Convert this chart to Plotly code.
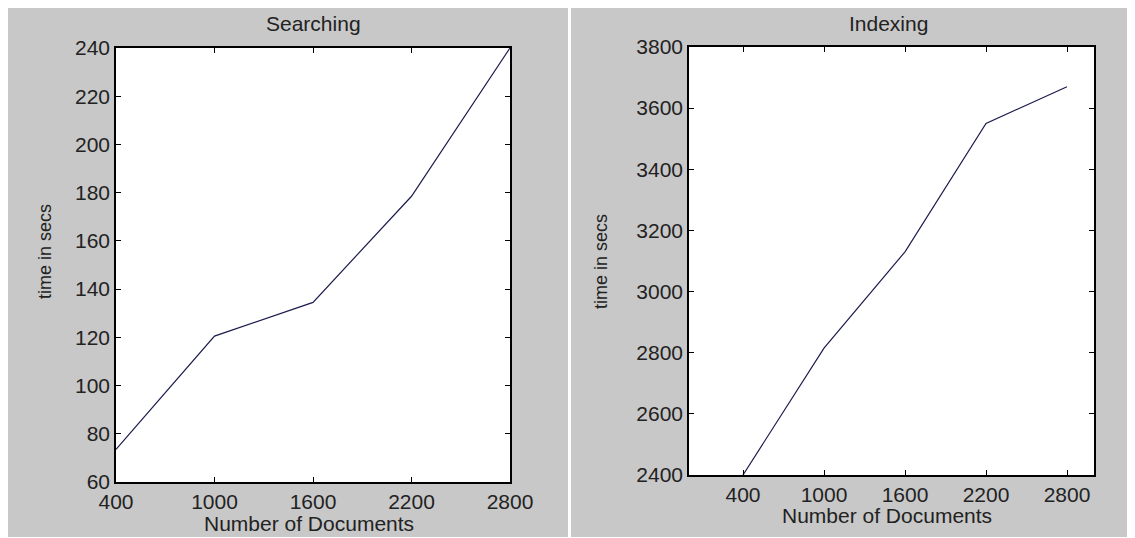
import plotly.graph_objects as go

# ---- data ----
docs = [400, 1000, 1600, 2200, 2800]
search_time = [73.5, 120.5, 134.5, 178.5, 240]
index_time = [2400, 2815, 3130, 3550, 3670]
x_ticks = [400, 1000, 1600, 2200, 2800]
search_y_ticks = list(range(60, 241, 20))
index_y_ticks = list(range(2400, 3801, 200))

# page body has an 8px margin; figure occupies the rest of the window
OFF = 8
W, H = 1135 - OFF, 538 - OFF
def px(x):
    return max(0.0, min(1.0, (x - OFF) / W))
def py(y):
    return max(0.0, min(1.0, 1 - (y - OFF) / H))

FONT = "Liberation Sans, Arial, sans-serif"
TXT = "#222222"
LINE = "#1c1c4c"
GRAY = "#c8c8c8"

fig = go.Figure()
fig.add_trace(go.Scatter(x=docs, y=search_time, mode="lines",
                         line=dict(color=LINE, width=1.2), xaxis="x", yaxis="y",
                         showlegend=False))
fig.add_trace(go.Scatter(x=docs, y=index_time, mode="lines",
                         line=dict(color=LINE, width=1.2), xaxis="x2", yaxis="y2",
                         showlegend=False))

axis_common = dict(showline=True, linecolor="black", linewidth=1.5, mirror="ticks",
                   ticks="inside", ticklen=5, tickcolor="black", tickwidth=1.2,
                   showgrid=False, zeroline=False, automargin=False,
                   tickfont=dict(family=FONT, size=21, color=TXT))

fig.update_layout(
    template="none",
    width=W, height=H, autosize=False,
    margin=dict(l=0, r=0, t=0, b=0, pad=0),
    paper_bgcolor="white", plot_bgcolor="white",
    xaxis=dict(domain=[px(116), px(510)], range=[400, 2800], tickvals=x_ticks,
               anchor="y", **axis_common),
    yaxis=dict(domain=[py(482), py(48)], range=[60, 240], tickvals=search_y_ticks,
               anchor="x", **axis_common),
    xaxis2=dict(domain=[px(689), px(1094)], range=[0, 3000], tickvals=x_ticks,
                anchor="y2", **axis_common),
    yaxis2=dict(domain=[py(475), py(47)], range=[2400, 3800], tickvals=index_y_ticks,
                anchor="x2", **axis_common),
    shapes=[
        dict(type="rect", xref="paper", yref="paper", x0=px(7), x1=px(568),
             y0=py(537), y1=py(7), fillcolor=GRAY, line=dict(width=0), layer="below"),
        dict(type="rect", xref="paper", yref="paper", x0=px(571), x1=1,
             y0=py(537), y1=py(7), fillcolor=GRAY, line=dict(width=0), layer="below"),
        dict(type="rect", xref="x domain", yref="y domain", x0=0, x1=1, y0=0, y1=1,
             fillcolor="white", line=dict(width=0), layer="below"),
        dict(type="rect", xref="x2 domain", yref="y2 domain", x0=0, x1=1, y0=0, y1=1,
             fillcolor="white", line=dict(width=0), layer="below"),
    ],
    annotations=[
        dict(text="Searching", x=px(313), y=py(24), xref="paper", yref="paper",
             showarrow=False, xanchor="center", yanchor="middle",
             font=dict(family=FONT, size=21, color=TXT)),
        dict(text="Indexing", x=px(888), y=py(24), xref="paper", yref="paper",
             showarrow=False, xanchor="center", yanchor="middle",
             font=dict(family=FONT, size=21, color=TXT)),
        dict(text="Number of Documents", x=px(309), y=py(523), xref="paper", yref="paper",
             showarrow=False, xanchor="center", yanchor="middle",
             font=dict(family=FONT, size=21, color=TXT)),
        dict(text="Number of Documents", x=px(887), y=py(515), xref="paper", yref="paper",
             showarrow=False, xanchor="center", yanchor="middle",
             font=dict(family=FONT, size=21, color=TXT)),
        dict(text="time in secs", x=px(45), y=py(252), xref="paper", yref="paper",
             showarrow=False, xanchor="center", yanchor="middle", textangle=-90,
             font=dict(family=FONT, size=18, color=TXT)),
        dict(text="time in secs", x=px(601), y=py(262), xref="paper", yref="paper",
             showarrow=False, xanchor="center", yanchor="middle", textangle=-90,
             font=dict(family=FONT, size=18, color=TXT)),
    ],
)

fig.write_html("out.html")
